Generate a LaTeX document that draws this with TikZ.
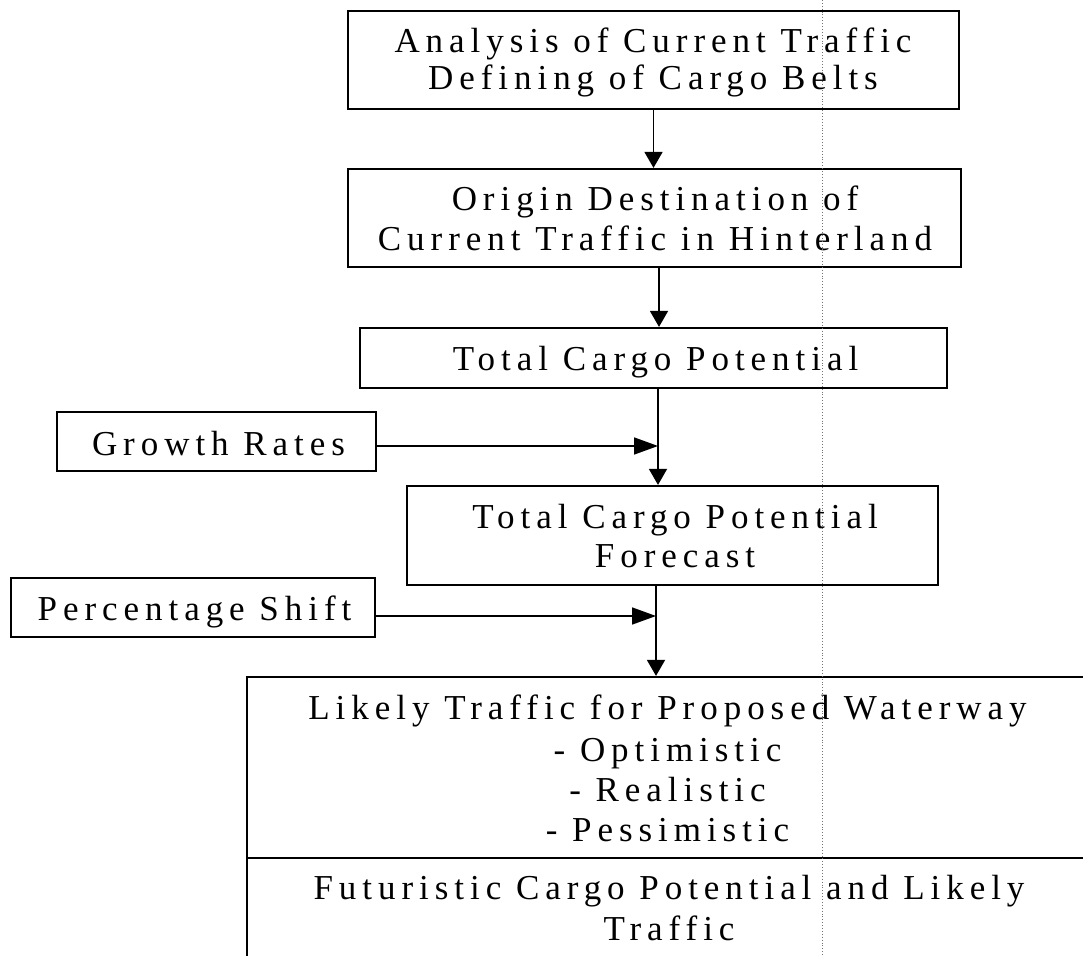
\documentclass[tikz,border=0pt]{standalone}
\usepackage{fontspec}
\setmainfont{Liberation Serif}[LetterSpace=17]
\usetikzlibrary{arrows.meta,calc}
\begin{document}
\begin{tikzpicture}[x=1pt,y=-1pt,
  box/.style={draw,line width=2.2pt,inner sep=0pt},
  txt/.style={inner sep=0pt,align=center,anchor=base},
  arr/.style={line width=1.6pt,-{Triangle[length=16pt,width=18pt]}},
  harr/.style={line width=1.6pt,-{Triangle[length=24pt,width=17pt]}},
  scanline/.style={draw=black!55,dotted,line width=0.9pt}]
\useasboundingbox (0,0) rectangle (1083,955);
\clip (0,0) rectangle (1083,955);

% boxes
\node[box,minimum width=611pt,minimum height=98pt] (b1) at (653.5,60) {};
\node[box,minimum width=613pt,minimum height=98pt] (b2) at (654.5,218) {};
\node[box,minimum width=587pt,minimum height=60pt] (b3) at (653.5,358) {};
\node[box,minimum width=319pt,minimum height=59pt] (gr) at (216.5,441.5) {};
\node[box,minimum width=531pt,minimum height=99pt] (b4) at (672.5,535.5) {};
\node[box,minimum width=364pt,minimum height=59pt] (ps) at (193,607.5) {};
\node[box,minimum width=838pt,minimum height=181pt] (b5) at (666,767.5) {};
\node[box,minimum width=838pt,minimum height=104pt] (b6) at (666,910) {};

% texts (anchored at the baseline of their last line)
\node[txt,font=\fontsize{35}{37}\selectfont] (b1t) at (653,90)
  {Analysis of Current Traffic\\Defining of Cargo Belts};
\node[txt,font=\fontsize{35}{40}\selectfont] (b2t) at (655,250)
  {Origin Destination of\\Current Traffic in Hinterland};
\node[txt,font=\fontsize{35}{40}\selectfont] (b3t) at (655.5,370)
  {Total Cargo Potential};
\node[txt,font=\fontsize{35}{40}\selectfont] (grt) at (218.5,455)
  {Growth Rates};
\node[txt,font=\fontsize{35}{39}\selectfont] (b4t) at (675,567)
  {Total Cargo Potential\\Forecast};
\node[txt,font=\fontsize{35}{40}\selectfont] (pst) at (194.5,620)
  {Percentage Shift};
\node[txt,font=\fontsize{35}{40}\selectfont] (b5t) at (667.5,841)
  {Likely Traffic for Proposed Waterway\\[2pt]- Optimistic\\- Realistic\\- Pessimistic};
\node[txt,font=\fontsize{35}{41}\selectfont] (b6t) at (669,940)
  {Futuristic Cargo Potential and Likely\\Traffic};

% connector end points
\coordinate (b2s) at ([xshift=4.5pt]b2.south);
\coordinate (b3s) at ([xshift=4.5pt]b3.south);
\coordinate (b4s) at ([xshift=-16.5pt]b4.south);
\coordinate (gre) at ([yshift=-4.5pt]gr.east);
\coordinate (pse) at ([yshift=-8.5pt]ps.east);
\coordinate (j1) at (b3s |- gre);
\coordinate (j2) at (b4s |- pse);

% connectors
\draw[arr] (b1.south) -- (b1.south |- b2.north);
\draw[arr] (b2s) -- (b2s |- b3.north);
\draw[arr] (b3s) -- (b3s |- b4.north);
\draw[harr] (gre) -- (j1);
\draw[arr] (b4s) -- (b4s |- b5.north);
\draw[harr] (pse) -- (j2);

% faint fold line of the scanned page
\draw[scanline] (822.5,0) -- (822.5,955);
\end{tikzpicture}
\end{document}
